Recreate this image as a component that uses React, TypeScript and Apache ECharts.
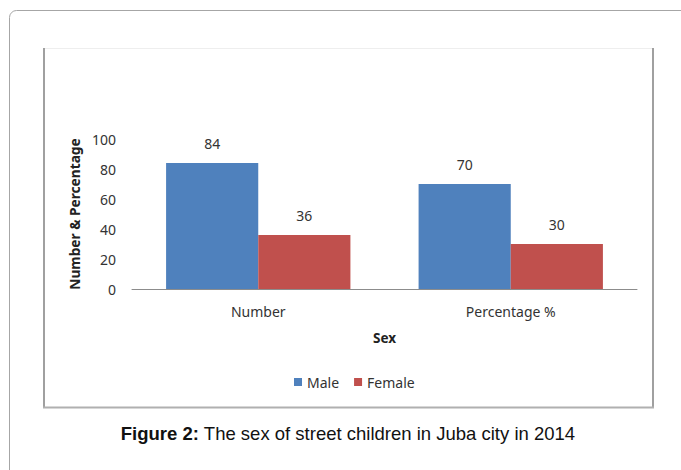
import React, { useEffect, useRef } from "react";
import * as echarts from "echarts";

const categories = ["Number", "Percentage %"];
const maleValues = [84, 70];
const femaleValues = [36, 30];
const seriesNames = ["Male", "Female"];
const yTicks = { min: 0, max: 100, interval: 20 };

export default function App() {
  const ref = useRef<HTMLDivElement>(null);
  useEffect(() => {
    const chart = echarts.init(ref.current!, null, { renderer: "svg" });
    const font = "'Noto Sans', 'Open Sans', sans-serif";
    const capFont = "'Liberation Sans', Arial, sans-serif";
    chart.setOption({
      animation: false,
      backgroundColor: "#ffffff",
      textStyle: { fontFamily: font },
      grid: { left: 132, right: 44, top: 139, bottom: 181, containLabel: false },
      legend: {
        data: seriesNames,
        left: 289,
        top: 370,
        icon: "rect",
        itemWidth: 8,
        itemHeight: 8,
        itemGap: 15,
        itemStyle: { borderWidth: 0 },
        textStyle: { fontFamily: font, fontSize: 14, color: "#333" },
      },
      xAxis: {
        type: "category",
        data: categories,
        name: "Sex",
        nameLocation: "middle",
        nameGap: 42,
        nameTextStyle: { fontFamily: font, fontSize: 13.5, fontWeight: "bold", color: "#222" },
        axisLine: { lineStyle: { color: "#8c8c8c", width: 1 } },
        axisTick: { show: false },
        axisLabel: { margin: 15, fontSize: 14, color: "#333", fontFamily: font },
      },
      yAxis: {
        type: "value",
        min: yTicks.min,
        max: yTicks.max,
        interval: yTicks.interval,
        name: "Number & Percentage",
        nameLocation: "middle",
        nameGap: 50,
        nameRotate: 90,
        nameTextStyle: { fontFamily: font, fontSize: 13.7, fontWeight: "bold", color: "#222" },
        axisLine: { show: false },
        axisTick: { show: false },
        splitLine: { show: false },
        axisLabel: { margin: 16, fontSize: 14, color: "#333", fontFamily: font },
      },
      series: [
        {
          name: seriesNames[0],
          type: "bar",
          data: maleValues,
          barGap: "0%",
          barCategoryGap: "27%",
          itemStyle: { color: "#4F81BD" },
          label: { show: true, position: "top", distance: 13, fontSize: 14, color: "#333", fontFamily: font },
        },
        {
          name: seriesNames[1],
          type: "bar",
          data: femaleValues,
          barGap: "0%",
          barCategoryGap: "27%",
          itemStyle: { color: "#C0504D" },
          label: { show: true, position: "top", distance: 13, fontSize: 14, color: "#333", fontFamily: font },
        },
      ],
      graphic: [
        {
          type: "rect",
          shape: { x: 9.5, y: 10.5, width: 700, height: 500, r: [7, 0, 0, 0] },
          style: { fill: "none", stroke: "#a6a6a6", lineWidth: 1 },
          silent: true,
        },
        {
          type: "line",
          shape: { x1: 44, y1: 48.5, x2: 653, y2: 48.5 },
          style: { stroke: "#eeeeee", lineWidth: 1 },
        },
        {
          type: "line",
          shape: { x1: 44, y1: 48, x2: 44, y2: 408 },
          style: { stroke: "#a0a0a0", lineWidth: 2 },
        },
        {
          type: "line",
          shape: { x1: 653, y1: 48, x2: 653, y2: 408 },
          style: { stroke: "#a0a0a0", lineWidth: 2 },
        },
        {
          type: "line",
          shape: { x1: 43, y1: 407.5, x2: 654, y2: 407.5 },
          style: { stroke: "#b0b0b0", lineWidth: 2 },
        },
        {
          type: "text",
          x: 348,
          y: 433,
          style: {
            text: "{b|Figure 2:} The sex of street children in Juba city in 2014",
            align: "center",
            verticalAlign: "middle",
            fontFamily: capFont,
            fontSize: 18.5,
            fill: "#111",
            rich: {
              b: { fontWeight: "bold", fontFamily: capFont, fontSize: 18.5, fill: "#111" },
            },
          },
        },
      ],
    });
    return () => chart.dispose();
  }, []);
  return (
    <div
      ref={ref}
      style={{ position: "fixed", left: 0, top: 0, width: 681, height: 470 }}
    />
  );
}
